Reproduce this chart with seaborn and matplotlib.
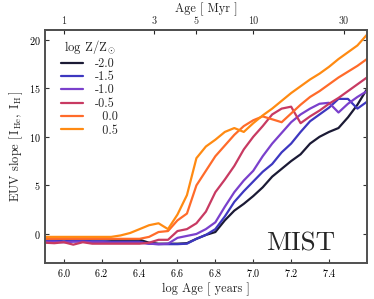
import numpy as np
import pandas as pd
import matplotlib.pyplot as plt
import seaborn as sns

log_age = [5.90, 5.95, 6.00, 6.05, 6.10, 6.15, 6.20, 6.25, 6.30, 6.35, 6.40,
           6.45, 6.50, 6.55, 6.60, 6.65, 6.70, 6.75, 6.80, 6.85, 6.90, 6.95,
           7.00, 7.05, 7.10, 7.15, 7.20, 7.25, 7.30, 7.35, 7.40, 7.45, 7.50,
           7.55, 7.60]

z_m20 = [-0.5, -0.5, -0.5, -0.5, -0.55, -0.55, -0.55, -0.6, -0.6, -0.6, -0.6,
         -0.9, -1.0, -1.0, -1.0, -0.95, -0.5, -0.1, 0.2, 1.4, 2.4, 3.1,
         3.9, 4.8, 5.9, 6.7, 7.5, 8.2, 9.3, 10.0, 10.5, 10.9, 12.0,
         13.3, 14.9]
z_m15 = [-0.7, -0.7, -0.75, -0.7, -0.7, -0.75, -0.75, -0.8, -0.8, -0.8, -0.8,
         -1.0, -1.05, -1.05, -1.05, -1.0, -0.5, -0.1, 0.5, 1.8, 3.3, 4.4,
         5.4, 6.4, 7.2, 8.4, 9.3, 10.5, 11.6, 12.3, 13.0, 13.9, 13.9,
         12.9, 13.6]
z_m10 = [-0.8, -0.8, -0.85, -0.8, -0.8, -0.85, -0.85, -0.9, -0.9, -0.9, -0.9,
         -1.0, -1.05, -1.0, -0.4, -0.2, 0.0, 0.5, 1.2, 2.8, 4.3, 5.5,
         6.5, 8.0, 9.3, 10.4, 11.5, 12.3, 12.9, 13.4, 13.5, 12.5, 13.4,
         14.1, 14.7]
z_m05 = [-0.9, -0.95, -0.85, -1.1, -0.85, -1.0, -1.0, -1.0, -1.0, -1.0, -1.0,
         -0.9, -0.6, -0.6, 0.3, 0.5, 1.1, 2.3, 4.3, 5.6, 7.0, 8.7,
         10.0, 11.1, 12.3, 12.9, 13.1, 11.4, 12.1, 12.7, 13.4, 14.0, 14.7,
         15.4, 16.1]
z_p00 = [-0.5, -0.5, -0.5, -0.5, -0.5, -0.5, -0.5, -0.5, -0.5, -0.5, -0.5,
         -0.3, 0.2, 0.3, 1.4, 2.1, 5.0, 6.5, 8.0, 9.1, 10.2, 11.1,
         11.7, 12.1, 11.8, 11.5, 12.4, 13.3, 14.1, 14.7, 15.4, 16.1, 16.7,
         17.3, 18.0]
z_p05 = [-0.3, -0.3, -0.3, -0.3, -0.3, -0.3, -0.3, -0.3, -0.15, 0.1, 0.5,
         0.9, 1.1, 0.5, 2.0, 4.0, 7.8, 9.0, 9.7, 10.5, 10.9, 10.5,
         11.4, 12.2, 12.9, 13.7, 14.5, 15.2, 15.9, 16.5, 17.2, 18.0, 18.7,
         19.4, 20.5]

metallicities = ['-2.0', '-1.5', '-1.0', '-0.5', '0.0', '0.5']
legend_labels = ['-2.0', '-1.5', '-1.0', '-0.5', '  0.0', '  0.5']
series = [z_m20, z_m15, z_m10, z_m05, z_p00, z_p05]
line_colors = ['#1b1a35', '#3d37c0', '#7a40cc', '#c83a62', '#ff6b2a', '#ff8a12']

age_ticks_myr = [1, 3, 5, 10, 30]

rows = []
for z, vals in zip(metallicities, series):
    for a, v in zip(log_age, vals):
        rows.append({'logage': a, 'slope': v, 'Z': z})
df = pd.DataFrame(rows)

sns.set_theme(style='ticks')
plt.rcParams['font.family'] = 'serif'
plt.rcParams['font.serif'] = ['cmr10', 'DejaVu Serif']
plt.rcParams['mathtext.fontset'] = 'cm'
plt.rcParams['axes.formatter.use_mathtext'] = True
plt.rcParams['axes.unicode_minus'] = False

fig = plt.figure(figsize=(3.74, 2.99), dpi=100)
ax = fig.add_axes([0.12, 0.12, 0.861, 0.78])

sns.lineplot(data=df, x='logage', y='slope', hue='Z', hue_order=metallicities,
             palette=dict(zip(metallicities, line_colors)), lw=1.6, ax=ax,
             legend=False)

ax.set_xlim(5.9, 7.6)
ax.set_ylim(-3, 21)
ax.set_xticks([6.0, 6.2, 6.4, 6.6, 6.8, 7.0, 7.2, 7.4])
ax.set_yticks([0, 5, 10, 15, 20])
ax.tick_params(direction='in', length=3, width=0.8, labelsize=7.3,
               colors='#333333', right=True, top=False, pad=3)
ax.tick_params(axis='both', labelcolor='black')
for s in ax.spines.values():
    s.set_color('#505050')
    s.set_linewidth(1.4)

ax.set_xlabel('log Age [ years ]', fontsize=8.8, labelpad=2)
ax.set_ylabel(r'EUV slope $[\,\mathrm{I}_{\mathrm{He}},\ \mathrm{I}_{\mathrm{H}}\,]$',
              fontsize=9, labelpad=3)

sec = ax.secondary_xaxis('top', functions=(lambda x: 10 ** (x - 6),
                                           lambda a: np.log10(np.clip(a, 1e-6, None)) + 6))
sec.set_xticks(age_ticks_myr)
sec.set_xticklabels([str(t) for t in age_ticks_myr])
sec.tick_params(direction='in', length=3, width=0.8, labelsize=7.3, pad=3)
sec.spines['top'].set_color('#505050')
sec.spines['top'].set_linewidth(1.4)
sec.set_xlabel('Age [ Myr ]', fontsize=8.8, labelpad=3)

handles = [plt.Line2D([], [], color=c, lw=1.6) for c in line_colors]
ax.legend(handles, legend_labels, title=r'log Z/Z$_{\odot}$', loc='upper left',
          bbox_to_anchor=(0.025, 1.0), frameon=False, fontsize=8.8,
          title_fontsize=9.2, handlelength=1.8, labelspacing=0.1,
          borderaxespad=0.3, handletextpad=0.9)

ax.text(0.90, 0.052, 'MIST', transform=ax.transAxes, ha='right', va='baseline',
        fontsize=19.5)

fig.savefig('out.png', dpi=100)
